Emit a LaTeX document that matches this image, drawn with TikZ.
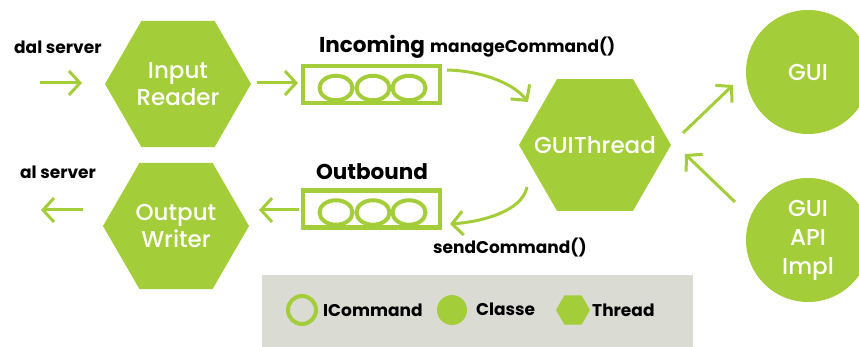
\documentclass[tikz,border=0pt]{standalone}
\usepackage{fontspec}
\setmainfont{Poppins}
\newfontfamily\medfont{Poppins Medium}
\usetikzlibrary{shapes.geometric,arrows.meta,calc}
\definecolor{gr}{RGB}{164,205,58}
\definecolor{lg}{RGB}{218,219,211}
\begin{document}
\begin{tikzpicture}[x=1pt,y=-1pt,
 hexa/.style={regular polygon, regular polygon sides=6, fill=gr, inner sep=0pt},
 wtxt/.style={text=white, align=center, inner sep=0pt, font=\medfont\fontsize{23}{27}\selectfont},
 cls/.style={circle, fill=gr, minimum size=124pt, inner sep=0pt, text=white, align=center, font=\medfont\fontsize{23}{29}\selectfont},
 arr/.style={draw=gr, line width=3pt, -{Straight Barb[length=11pt,width=24pt]}},
 lbl/.style={font=\bfseries\fontsize{17}{20}\selectfont, inner sep=0pt},
 big/.style={font=\bfseries\fontsize{21.5}{24}\selectfont, inner sep=0pt},
 queue/.style={draw=gr, line width=4.5pt, minimum width=137pt, minimum height=37pt, inner sep=0pt},
 ring/.style={draw=gr, line width=4pt, ellipse, minimum width=33pt, minimum height=24.5pt, inner sep=0pt}
]
\useasboundingbox (0,0) rectangle (859,347);
% legend background
\node[fill=lg, minimum width=431pt, minimum height=75pt, inner sep=0pt, anchor=north west] (legend) at (262,275) {};
% hexagons
\node[hexa, minimum size=146pt] (ir) at (178,84) {};
\node[wtxt] (irt) at (ir) {Input\\Reader};
\node[hexa, minimum size=146pt] (ow) at (176,226) {};
\node[wtxt] (owt) at (ow) {Output\\Writer};
\node[hexa, minimum size=152pt] (gt) at (595,145) {};
\node[wtxt] (gtt) at (gt) {GUIThread};
% classes
\node[cls] (gui) at (808,72) {GUI};
\node[cls] (api) at (808,240) {GUI\\API\\Impl};
% queues
\foreach \x [count=\i] in {336,373,409}{
  \node[ring] (in\i) at (\x,88) {};
  \node[ring] (out\i) at (\x,212.5) {};
}
\node[queue] (inq) at (371.5,84.5) {};
\node[queue] (outq) at (371.5,209) {};
% labels
\node[lbl, anchor=west] (l1) at (14,47) {dal server};
\node[lbl, anchor=west] (l2) at (20,172) {al server};
\node[big] (inc) at (372,47) {Incoming};
\node[lbl, anchor=west] (mc) at (430,47) {manageCommand()};
\node[big] (outb) at (372,172) {Outbound};
\node[lbl, anchor=west] (sc) at (433,248) {sendCommand()};
% coordinates
\coordinate (a1) at (40,83);
\coordinate (a1e) at (82,83);
\coordinate (a2) at (257,83);
\coordinate (a2e) at (298,83);
\coordinate (a3) at (447,70);
\coordinate (a3e) at (528,102);
\coordinate (a4) at (527,187);
\coordinate (a4e) at (450,224);
\coordinate (a5) at (683,133);
\coordinate (a5e) at (733,85);
\coordinate (a6) at (735,202);
\coordinate (a6e) at (685,154);
\coordinate (a7) at (299,210);
\coordinate (a7e) at (259,210);
\coordinate (a8) at (83,210);
\coordinate (a8e) at (41,210);
% arrows
\draw[arr] (a1) -- (a1e);
\draw[arr] (a2) -- (a2e);
\draw[arr] (a3) .. controls (485,71) and (515,85) .. (a3e);
\draw[arr] (a4) .. controls (522,212) and (480,222) .. (a4e);
\draw[arr] (a5) -- (a5e);
\draw[arr] (a6) -- (a6e);
\draw[arr] (a7) -- (a7e);
\draw[arr] (a8) -- (a8e);
% legend items
\node[circle, draw=gr, line width=4pt, minimum size=28pt, inner sep=0pt] (lr) at (302,310) {};
\node[lbl, anchor=west] (lt1) at (323,310) {ICommand};
\node[circle, fill=gr, minimum size=30pt, inner sep=0pt] (lc) at (452,310) {};
\node[lbl, anchor=west] (lt2) at (476,309) {Classe};
\node[regular polygon, regular polygon sides=6, fill=gr, minimum size=34pt, inner sep=0pt] (lh) at (573,310) {};
\node[lbl, anchor=west] (lt3) at (592,310) {Thread};
\end{tikzpicture}
\end{document}
